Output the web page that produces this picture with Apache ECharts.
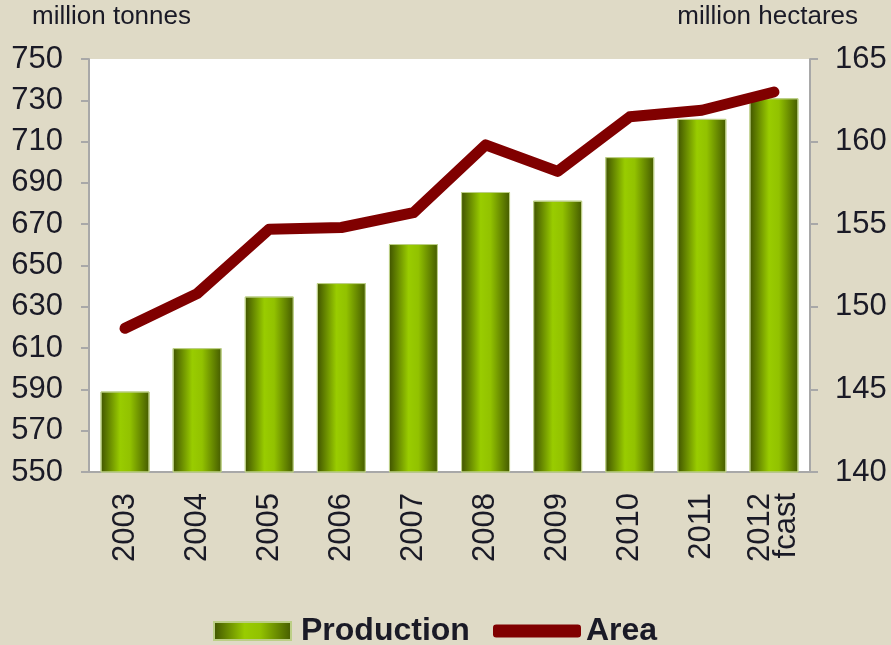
<!DOCTYPE html>
<html>
<head>
<meta charset="utf-8">
<script src="https://cdn.jsdelivr.net/npm/echarts@6/dist/echarts.min.js"></script>
<style>
  html, body { margin: 0; padding: 0; background: #dfdac6; }
  #chart { width: 891px; height: 645px; }
</style>
</head>
<body>
<div id="chart"></div>
<script>
// chart data
const years = ['2003', '2004', '2005', '2006', '2007', '2008', '2009', '2010', '2011', '2012\nfcast']
const production = [589, 610, 635, 641.5, 660.4, 685.6, 681.4, 702.5, 721, 731]
const area = [148.7, 150.8, 154.7, 154.8, 155.7, 159.8, 158.2, 161.5, 161.9, 163.0]

const chart = echarts.init(document.getElementById('chart'))

const barGradient = new echarts.graphic.LinearGradient(0, 0, 1, 0, [
  { offset: 0, color: '#3f5200' },
  { offset: 0.4, color: '#99cc00' },
  { offset: 0.6, color: '#92c200' },
  { offset: 1, color: '#445a00' }
])

const textColor = '#1a1a26'
const font = 'Liberation Sans, Arial, sans-serif'

const option = {
  backgroundColor: '#dfdac6',
  textStyle: { fontFamily: font },
  grid: {
    left: 89,
    right: 81,
    top: 59,
    bottom: 173,
    show: true,
    backgroundColor: '#ffffff',
    borderWidth: 0
  },
  graphic: [
    {
      type: 'text',
      left: 32,
      top: 4,
      style: { text: 'million tonnes', fill: textColor, font: '26px ' + font }
    },
    {
      type: 'text',
      right: 33,
      top: 4,
      style: { text: 'million hectares', fill: textColor, font: '26px ' + font }
    }
  ],
  legend: [
    {
      data: ['Production'],
      left: 213,
      top: 615,
      padding: 0,
      itemWidth: 77,
      itemHeight: 18,
      icon: 'rect',
      textStyle: { color: textColor, fontSize: 32, fontWeight: 'bold', fontFamily: font, padding: [0, 0, 0, 5] }
    },
    {
      data: ['Area'],
      left: 493,
      top: 615,
      padding: 0,
      itemWidth: 88,
      itemHeight: 13,
      icon: 'roundRect',
      textStyle: { color: textColor, fontSize: 32, fontWeight: 'bold', fontFamily: font }
    }
  ],
  xAxis: {
    type: 'category',
    data: years,
    axisLine: { lineStyle: { color: '#a8a8a8', width: 2 } },
    axisTick: { show: false },
    axisLabel: {
      rotate: 90,
      margin: 21,
      color: textColor,
      fontSize: 31,
      lineHeight: 26,
      fontFamily: font
    }
  },
  yAxis: [
    {
      type: 'value',
      min: 550,
      max: 750,
      interval: 20,
      axisLine: { show: true, lineStyle: { color: '#a8a8a8', width: 2 } },
      axisTick: { show: true, length: 8, lineStyle: { color: '#a8a8a8', width: 2 } },
      splitLine: { show: false },
      axisLabel: { margin: 26, color: textColor, fontSize: 31, fontFamily: font }
    },
    {
      type: 'value',
      min: 140,
      max: 165,
      interval: 5,
      position: 'right',
      axisLine: { show: true, lineStyle: { color: '#a8a8a8', width: 2 } },
      axisTick: { show: true, length: 8, lineStyle: { color: '#a8a8a8', width: 2 } },
      splitLine: { show: false },
      axisLabel: { margin: 25, color: textColor, fontSize: 31, fontFamily: font }
    }
  ],
  series: [
    {
      name: 'Production',
      type: 'bar',
      data: production,
      barWidth: 49,
      itemStyle: {
        color: barGradient,
        borderColor: '#bccf86',
        borderWidth: 1
      }
    },
    {
      name: 'Area',
      type: 'line',
      yAxisIndex: 1,
      data: area,
      symbol: 'none',
      lineStyle: { color: '#800000', width: 11, cap: 'round', join: 'round' },
      itemStyle: { color: '#800000' }
    }
  ]
}

chart.setOption(option)
</script>
</body>
</html>
